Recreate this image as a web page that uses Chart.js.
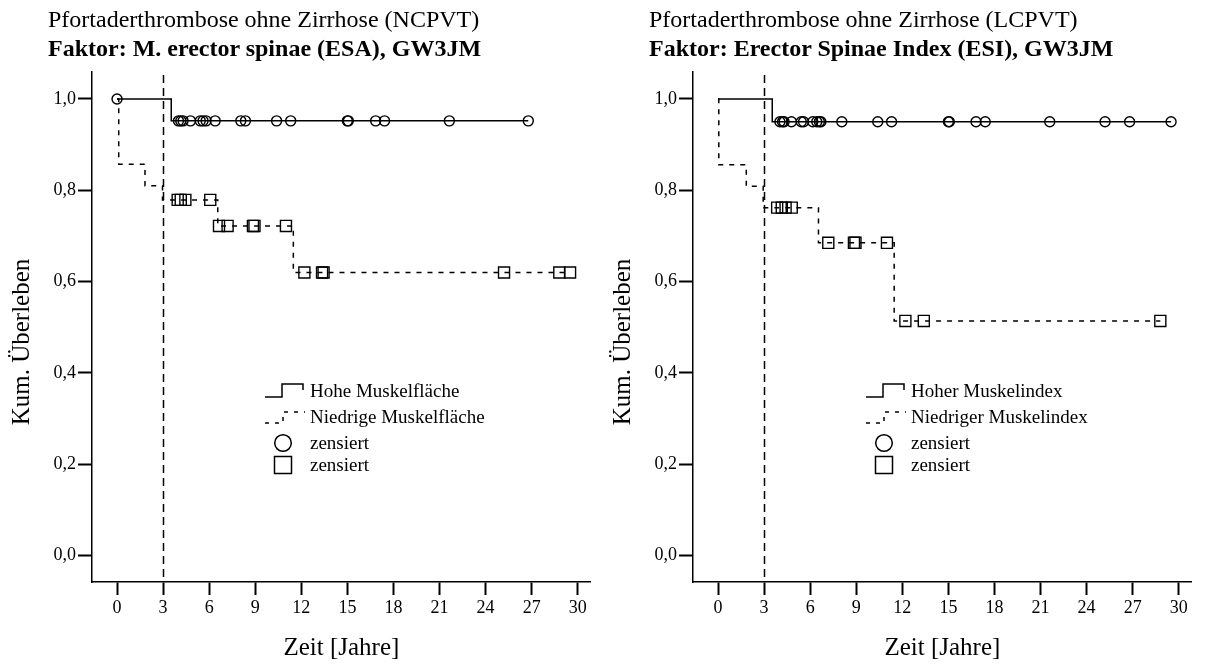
<!DOCTYPE html>
<html><head><meta charset="utf-8">
<script src="https://cdn.jsdelivr.net/npm/chart.js@4/dist/chart.umd.min.js"></script>
<style>
html,body{margin:0;padding:0;background:#fff;}
body{width:1208px;height:664px;position:relative;overflow:hidden;font-family:'Liberation Serif','Times New Roman',serif;color:#000;}
.panel{position:absolute;top:0;width:600px;height:664px;}
.panel canvas{position:absolute;left:0;top:0;width:600px;height:664px;}
.t1,.t2{position:absolute;left:48px;white-space:nowrap;font-size:24px;line-height:29px;}
.t1{top:5px;}
.t2{top:34px;font-weight:bold;}
</style></head><body>
<div class="panel" style="left:0px"><canvas id="c1" width="600" height="664"></canvas>
<div class="t1" id="t1a"></div><div class="t2" id="t2a"></div></div>
<div class="panel" style="left:601px"><canvas id="c2" width="600" height="664"></canvas>
<div class="t1" id="t1b"></div><div class="t2" id="t2b"></div></div>
<script>
// ---------- data ----------
const X_TICKS = [0, 3, 6, 9, 12, 15, 18, 21, 24, 27, 30];
const Y_TICKS = [0, 0.2, 0.4, 0.6, 0.8, 1.0];
const REF_YEAR = 3;

const TITLE_ESA = 'Pfortaderthrombose ohne Zirrhose (NCPVT)';
const SUBTITLE_ESA = 'Faktor: M. erector spinae (ESA), GW3JM';
const TITLE_ESI = 'Pfortaderthrombose ohne Zirrhose (LCPVT)';
const SUBTITLE_ESI = 'Faktor: Erector Spinae Index (ESI), GW3JM';
const X_TITLE = 'Zeit [Jahre]';
const Y_TITLE = 'Kum. Überleben';
const LEGEND_ESA = ['Hohe Muskelfläche', 'Niedrige Muskelfläche', 'zensiert', 'zensiert'];
const LEGEND_ESI = ['Hoher Muskelindex', 'Niedriger Muskelindex', 'zensiert', 'zensiert'];

// Left panel (ESA)
const esaHighTimes = [0, 3.53, 26.78];
const esaHighSurv  = [1.0, 0.952, 0.952];
const esaHighCens  = [0, 4.0, 4.15, 4.3, 4.78, 5.42, 5.6, 5.8, 6.39, 8.06, 8.36, 10.39, 11.31, 15.0, 15.06, 16.84, 17.42, 21.64, 26.78];
const esaLowTimes  = [0, 0.11, 1.82, 2.96, 6.56, 11.48, 29.5];
const esaLowSurv   = [1.0, 0.857, 0.81, 0.779, 0.722, 0.62, 0.62];
const esaLowCens   = [3.95, 4.15, 4.45, 6.07, 6.64, 7.2, 8.85, 8.95, 11.0, 12.2, 13.35, 13.45, 25.2, 28.8, 29.5];

// Right panel (ESI)
const esiHighTimes = [0, 3.53, 29.5];
const esiHighSurv  = [1.0, 0.95, 0.95];
const esiHighCens  = [4.03, 4.2, 4.3, 4.78, 5.42, 5.57, 6.17, 6.43, 6.6, 6.7, 8.06, 10.4, 11.3, 15.0, 15.06, 16.8, 17.4, 21.6, 25.2, 26.8, 29.5];
const esiLowTimes  = [0, 0.05, 1.84, 2.94, 6.54, 11.47, 28.8];
const esiLowSurv   = [1.0, 0.856, 0.809, 0.762, 0.685, 0.514, 0.514];
const esiLowCens   = [3.85, 4.15, 4.4, 4.8, 7.18, 8.85, 8.95, 11.0, 12.2, 13.4, 28.8];

// ---------- helpers ----------
const FONT = "'Liberation Serif','Times New Roman',serif";
const X_MIN = -1.63, X_MAX = 30.85, Y_MIN = -0.0576, Y_MAX = 1.059;

function survAt(times, surv, t) {
  let s = surv[0];
  for (let i = 0; i < times.length; i++) { if (times[i] <= t) s = surv[i]; }
  return s;
}
function curve(times, surv) { return times.map((t, i) => ({x: t, y: surv[i]})); }
function cens(times, surv, c) { return c.map(t => ({x: t, y: survAt(times, surv, t)})); }

const refLinePlugin = {
  id: 'refLine',
  afterDatasetsDraw(chart) {
    const {ctx, chartArea, scales} = chart;
    const x = Math.round(scales.x.getPixelForValue(REF_YEAR)) + 0.5;
    ctx.save();
    ctx.strokeStyle = '#000'; ctx.lineWidth = 1.5; ctx.setLineDash([8, 5]);
    ctx.beginPath(); ctx.moveTo(x, chartArea.top + 3); ctx.lineTo(x, chartArea.bottom); ctx.stroke();
    ctx.restore();
  }
};

const yTitlePlugin = {
  id: 'yTitle',
  afterDraw(chart) {
    const {ctx, chartArea} = chart;
    ctx.save();
    ctx.translate(22, chartArea.top + 270);
    ctx.rotate(-Math.PI / 2);
    ctx.font = '25px ' + FONT; ctx.fillStyle = '#000';
    ctx.textAlign = 'center'; ctx.textBaseline = 'middle';
    ctx.fillText(Y_TITLE, 0, 0);
    ctx.restore();
  }
};

const kmLegendPlugin = {
  id: 'kmLegend',
  afterDraw(chart, args, opts) {
    const {ctx, chartArea} = chart;
    const L = chartArea.left;
    const ix = L + 173, tx = L + 218;
    const rows = [391, 417, 443, 465];
    ctx.save();
    ctx.strokeStyle = '#000'; ctx.fillStyle = '#000'; ctx.lineWidth = 1.5;
    ctx.beginPath();
    ctx.moveTo(ix, rows[0] + 6); ctx.lineTo(ix + 17, rows[0] + 6); ctx.lineTo(ix + 17, rows[0] - 7);
    ctx.lineTo(ix + 38, rows[0] - 7); ctx.lineTo(ix + 38, rows[0] - 1); ctx.stroke();
    ctx.setLineDash([4, 6]);
    ctx.beginPath();
    ctx.moveTo(ix, rows[1] + 6); ctx.lineTo(ix + 18, rows[1] + 6); ctx.lineTo(ix + 18, rows[1] - 5);
    ctx.lineTo(ix + 40, rows[1] - 5); ctx.stroke();
    ctx.setLineDash([]);
    ctx.beginPath(); ctx.arc(ix + 18, rows[2], 8.3, 0, Math.PI * 2); ctx.stroke();
    ctx.strokeRect(ix + 18 - 8.5, rows[3] - 8.5, 17, 17);
    ctx.font = '19px ' + FONT; ctx.textBaseline = 'middle'; ctx.textAlign = 'left';
    opts.labels.forEach((lab, i) => ctx.fillText(lab, tx, rows[i] + 1));
    ctx.restore();
  }
};

function makeChart(id, high, low, legendLabels) {
  const datasets = [
    {data: curve(high.times, high.surv), borderColor: '#000', borderWidth: 1.5, stepped: 'before', pointRadius: 0, fill: false},
    {data: curve(low.times, low.surv), borderColor: '#000', borderWidth: 1.5, borderDash: [5, 6], stepped: 'before', pointRadius: 0, fill: false},
    {data: cens(high.times, high.surv, high.cens), showLine: false, pointStyle: 'circle', pointRadius: 5, pointBorderWidth: 1.4, pointBorderColor: '#000', pointBackgroundColor: 'rgba(0,0,0,0)'},
    {data: cens(low.times, low.surv, low.cens), showLine: false, pointStyle: 'rect', pointRadius: 7.8, pointBorderWidth: 1.4, pointBorderColor: '#000', pointBackgroundColor: 'rgba(0,0,0,0)'}
  ];
  return new Chart(document.getElementById(id), {
    type: 'line',
    data: {datasets},
    plugins: [refLinePlugin, kmLegendPlugin, yTitlePlugin],
    options: {
      responsive: false, animation: false, devicePixelRatio: 1,
      layout: {padding: {top: 72, right: 3, left: 0, bottom: 0}},
      plugins: {legend: {display: false}, tooltip: {enabled: false}, kmLegend: {labels: legendLabels}},
      elements: {line: {tension: 0}},
      scales: {
        x: {
          type: 'linear', position: 'bottom', min: X_MIN, max: X_MAX,
          afterBuildTicks: s => { s.ticks = X_TICKS.map(v => ({value: v})); },
          afterFit: s => { s.height = 82; },
          grid: {display: true, drawOnChartArea: false, drawTicks: true, tickLength: 13, tickWidth: 2, tickColor: '#000', color: '#000'},
          border: {display: true, color: '#000', width: 1.5},
          ticks: {color: '#000', font: {family: FONT, size: 18}, padding: 2, maxRotation: 0, autoSkip: false},
          title: {display: true, text: X_TITLE, color: '#000', font: {family: FONT, size: 25}, padding: {top: 0, bottom: 1}}
        },
        y: {
          type: 'linear', position: 'left', min: Y_MIN, max: Y_MAX,
          afterBuildTicks: s => { s.ticks = Y_TICKS.map(v => ({value: v})); },
          afterFit: s => { s.width = 92; },
          grid: {display: true, drawOnChartArea: false, drawTicks: true, tickLength: 14, tickWidth: 2, tickColor: '#000', color: '#000'},
          border: {display: true, color: '#000', width: 1.5},
          ticks: {color: '#000', font: {family: FONT, size: 18}, padding: 2, callback: v => v.toFixed(1).replace('.', ',')},
          title: {display: false}
        }
      }
    }
  });
}

document.getElementById('t1a').textContent = TITLE_ESA;
document.getElementById('t2a').textContent = SUBTITLE_ESA;
document.getElementById('t1b').textContent = TITLE_ESI;
document.getElementById('t2b').textContent = SUBTITLE_ESI;

makeChart('c1', {times: esaHighTimes, surv: esaHighSurv, cens: esaHighCens},
               {times: esaLowTimes, surv: esaLowSurv, cens: esaLowCens}, LEGEND_ESA);
makeChart('c2', {times: esiHighTimes, surv: esiHighSurv, cens: esiHighCens},
               {times: esiLowTimes, surv: esiLowSurv, cens: esiLowCens}, LEGEND_ESI);
</script>
</body></html>
